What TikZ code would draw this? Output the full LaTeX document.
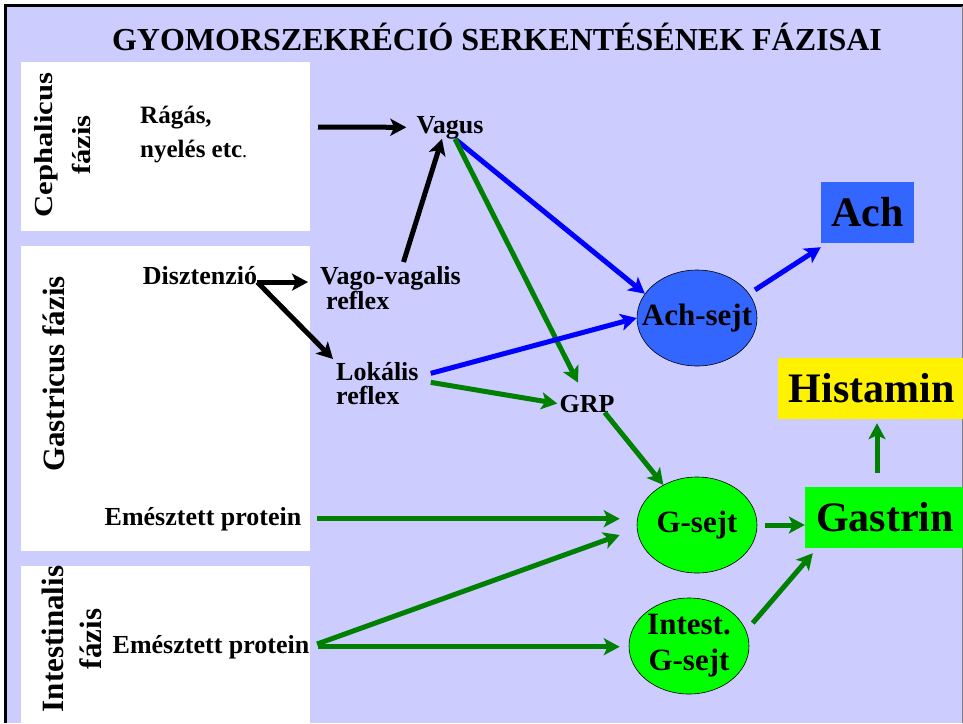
\documentclass[tikz,border=0pt]{standalone}
\usepackage{fontspec}
\setmainfont{Liberation Serif}
\usetikzlibrary{shapes.geometric,arrows.meta}

\begin{document}
\begin{tikzpicture}[x=1pt, y=-1pt,
    lbl/.style={font=\bfseries\fontsize{26}{24}\selectfont, inner sep=0pt},
    phase/.style={rotate=90, align=center, font=\bfseries\fontsize{31}{38}\selectfont},
    cell/.style={ellipse, draw=black, line width=0.6pt, minimum width=120pt, minimum height=96pt,
                 inner xsep=-16pt, inner ysep=0pt, align=center, font=\bfseries\fontsize{31}{36}\selectfont},
    hormone/.style={minimum height=61pt, inner sep=0pt, font=\bfseries\fontsize{42}{42}\selectfont},
    arr/.style={line width=5pt, -{Stealth[length=16pt,width=17pt,inset=4pt]}},
]
    % Define colors
    \definecolor{lavender}{RGB}{204, 204, 255}
    \definecolor{achblue}{RGB}{51, 102, 255}
    \definecolor{gfill}{RGB}{0, 255, 0}
    \definecolor{arrblue}{RGB}{0, 0, 255}
    \definecolor{arrgreen}{RGB}{0, 128, 0}

    % Draw frame
    \useasboundingbox (0,0) rectangle (963,723);
    \fill[lavender] (5,5) rectangle (963,723);
    \draw[line width=3pt] (5.5,723) -- (5.5,5.5) -- (963,5.5);
    \draw[line width=1pt, gray] (962.5,5.5) -- (962.5,723);

    % Draw phase boxes
    \fill[white] (21,62) rectangle (310,231);
    \fill[white] (21,246) rectangle (310,551);
    \fill[white] (21,566) rectangle (310,723);

    \node (title) [anchor=base, font=\bfseries\fontsize{32}{32}\selectfont] at (497,50)
        {GYOMORSZEKRÉCIÓ SERKENTÉSÉNEK FÁZISAI};

    \node (cephal) [phase, font=\bfseries\fontsize{26}{38}\selectfont] at (63,145)
        {\scalebox{1.18}[1]{Cephalicus}\\\scalebox{1.18}[1]{fázis}};
    \node (gastric) [phase] at (54,374) {Gastricus fázis};
    \node (intest) [phase] at (72,639) {Intestinalis\\fázis};

    % Add stimuli
    \node (rag) [lbl, anchor=west, align=left, font=\bfseries\fontsize{25}{34}\selectfont] at (140,135)
        {Rágás,\\nyelés etc{\mdseries\fontsize{20}{20}\selectfont.}};
    \coordinate (ragout) at (318,127);
    \node (vagus) [lbl, anchor=base] at (450,133) {Vagus};
    \node (disz) [lbl, anchor=base] at (200,284) {Disztenzió};
    \node (vagovag) [lbl, anchor=north west, align=left] at (320,266) {Vago-vagalis\\\hspace*{6pt}reflex};
    \node (lokalis) [lbl, anchor=north west, align=left] at (336,362) {Lokális\\reflex};
    \node (grp) [lbl, anchor=base] at (587,412) {GRP};
    \node (ep1) [lbl, anchor=base] at (203,525) {Emésztett protein};
    \node (ep2) [lbl, anchor=base] at (211,653) {Emésztett protein};

    % Add cells and hormones
    \node (achsejt) [cell, fill=achblue] at (697,318) {Ach-sejt};
    \node (gsejt) [cell, fill=gfill] at (697,525) {G-sejt};
    \node (igsejt) [cell, fill=gfill] at (689,646) {Intest.\\G-sejt};
    \node (ach) [hormone, fill=achblue, minimum width=93pt] at (867.5,212.5) {Ach};
    \node (hist) [hormone, fill=yellow, minimum width=187pt] at (871.5,388.5) {Histamin};
    \node (gastrin) [hormone, fill=gfill, minimum width=160pt] at (885,517.5) {Gastrin};

    % Draw nervous pathways
    \draw[arr, shorten >=10pt] (ragout) -- (vagus.west);
    \draw[arr] ([xshift=13pt,yshift=4pt]vagovag.north) -- ([xshift=-8pt]vagus.south);
    \draw[arr, shorten >=12pt] ([yshift=-7pt]disz.east) -- ([yshift=-7pt]disz.east -| vagovag.west);
    \draw[arr] ([yshift=-7pt]disz.east) -- ([xshift=-3pt,yshift=3pt]lokalis.north west);
    \draw[arr, arrblue] ([xshift=5pt]vagus.south) -- (achsejt.155);
    \draw[arr, arrgreen] ([xshift=5pt]vagus.south) -- ([xshift=-9pt,yshift=12pt]grp.north);
    \draw[arr, arrblue] ([xshift=12pt,yshift=10pt]lokalis.east) -- (achsejt.west);
    \draw[arr, arrgreen] ([xshift=12pt,yshift=1pt]lokalis.east) -- ([xshift=-2pt]grp.west);
    \draw[arr, arrgreen] ([xshift=-10pt]grp.south east) -- (gsejt.130);

    % Draw protein pathways
    \draw[arr, arrgreen, shorten <=15pt, shorten >=17pt] (ep1.east) -- (ep1.east -| gsejt.west);
    \draw[arr, arrgreen, shorten <=8pt, shorten >=9pt] (ep2.east) -- (ep2.east -| igsejt.west);
    \draw[arr, arrgreen, shorten <=8pt] (ep2.east) -- ([xshift=-17pt,yshift=-10pt]gsejt.west);

    % Draw secretion
    \draw[arr, arrblue, shorten <=7pt] (achsejt.25) -- ([yshift=-4pt]ach.south west);
    \draw[arr, arrgreen, shorten <=8pt] (gsejt.east) -- (gsejt.east -| gastrin.west);
    \draw[arr, arrgreen, shorten <=10pt] (igsejt.15) -- ([xshift=8pt,yshift=-5pt]gastrin.south west);
    \draw[arr, arrgreen, shorten <=14pt, shorten >=4pt] ([xshift=-8pt]gastrin.north) -- ([xshift=-8pt]gastrin.north |- hist.south);
\end{tikzpicture}
\end{document}
